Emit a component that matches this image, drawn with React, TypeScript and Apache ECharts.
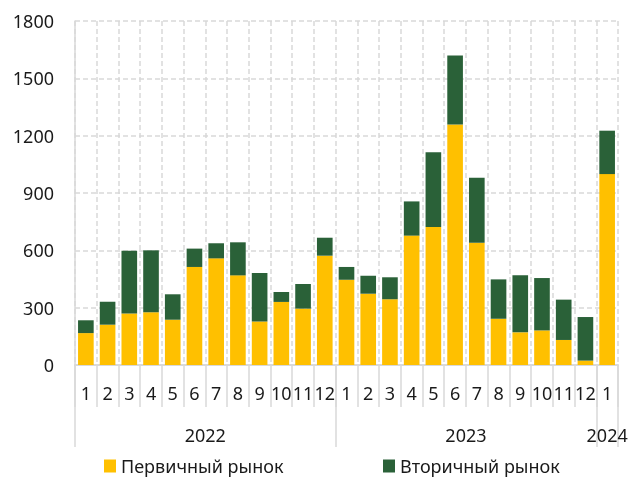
import React, { useEffect, useRef } from "react";
import * as echarts from "echarts";

const months: string[] = [
  "1", "2", "3", "4", "5", "6", "7", "8", "9", "10", "11", "12",
  "1", "2", "3", "4", "5", "6", "7", "8", "9", "10", "11", "12",
  "1",
];
const years: string[] = ["2022", "2023", "2024"];
const monthsPerYear: number[] = [12, 12, 1];

const primaryName = "Первичный рынок";
const secondaryName = "Вторичный рынок";

const primary: number[] = [
  167, 211, 270, 276, 237, 513, 558, 469, 228, 330, 295, 572,
  446, 373, 344, 677, 722, 1259, 640, 242, 171, 181, 131, 23,
  999,
];
const secondary: number[] = [
  67, 120, 328, 324, 133, 96, 79, 173, 253, 52, 129, 94,
  67, 94, 115, 179, 391, 361, 340, 206, 298, 274, 211, 228,
  227,
];

const yTicks = { min: 0, max: 1800, interval: 300 };

const FONT = "Noto Sans";
const GRID_GRAY = "#d9d9d9";
const TEXT = "#1a1a1a";

export default function App() {
  const ref = useRef<HTMLDivElement>(null);

  useEffect(() => {
    if (!ref.current) return;
    const chart = echarts.init(ref.current, undefined, { renderer: "svg" });

    const bounds: number[] = [0];
    const centers: number[] = [];
    let acc = 0;
    monthsPerYear.forEach((n) => {
      centers.push(acc + n / 2);
      acc += n;
      bounds.push(acc);
    });

    const legendBase = {
      top: 457,
      padding: 0,
      itemWidth: 12,
      itemHeight: 13,
      itemGap: 6,
      icon: "rect",
      textStyle: { fontFamily: FONT, fontSize: 18, color: TEXT },
    };

    const option: any = {
      animation: false,
      textStyle: { fontFamily: FONT },
      grid: {
        left: 75,
        right: 11,
        top: 21,
        bottom: 112,
        containLabel: false,
        outerBoundsMode: "none",
      },
      legend: [
        { ...legendBase, data: [primaryName], left: 104 },
        { ...legendBase, data: [secondaryName], left: 383 },
      ],
      xAxis: [
        {
          type: "category",
          position: "bottom",
          data: months,
          boundaryGap: true,
          axisLine: { show: true, lineStyle: { color: GRID_GRAY, width: 2 } },
          axisTick: {
            show: true,
            interval: 0,
            length: 42,
            lineStyle: { color: GRID_GRAY, width: 1.5 },
          },
          axisLabel: {
            interval: 0,
            margin: 19,
            fontFamily: FONT,
            fontSize: 18,
            color: TEXT,
            hideOverlap: false,
          },
          splitLine: {
            show: true,
            interval: 0,
            lineStyle: { color: GRID_GRAY, width: 1.5, type: [5, 3] },
          },
        },
        {
          type: "value",
          position: "bottom",
          min: 0,
          max: months.length,
          axisLine: { show: false },
          splitLine: { show: false },
          axisTick: {
            show: true,
            customValues: bounds,
            length: 82,
            lineStyle: { color: GRID_GRAY, width: 1.5 },
          },
          axisLabel: {
            show: true,
            customValues: centers,
            margin: 61,
            fontFamily: FONT,
            fontSize: 18,
            color: TEXT,
            formatter: (v: number) => {
              const i = centers.findIndex((c) => Math.abs(c - v) < 1e-6);
              return i >= 0 ? years[i] : "";
            },
          },
        },
      ],
      yAxis: {
        type: "value",
        min: yTicks.min,
        max: yTicks.max,
        interval: yTicks.interval,
        axisLine: { show: true, lineStyle: { color: GRID_GRAY, width: 1.5 } },
        axisTick: { show: false },
        axisLabel: {
          margin: 21,
          fontFamily: FONT,
          fontSize: 18,
          color: TEXT,
          formatter: (v: number) => String(v),
        },
        splitLine: {
          show: true,
          lineStyle: { color: GRID_GRAY, width: 1.5, type: [5, 3] },
        },
      },
      series: [
        {
          name: primaryName,
          type: "bar",
          stack: "total",
          xAxisIndex: 0,
          data: primary,
          barCategoryGap: "28%",
          itemStyle: { color: "#FFC000" },
        },
        {
          name: secondaryName,
          type: "bar",
          stack: "total",
          xAxisIndex: 0,
          data: secondary,
          barCategoryGap: "28%",
          itemStyle: { color: "#2A6138" },
        },
      ],
    };

    chart.setOption(option);
    return () => chart.dispose();
  }, []);

  return (
    <div
      ref={ref}
      style={{ position: "fixed", left: 0, top: 0, width: 629, height: 477 }}
    />
  );
}
